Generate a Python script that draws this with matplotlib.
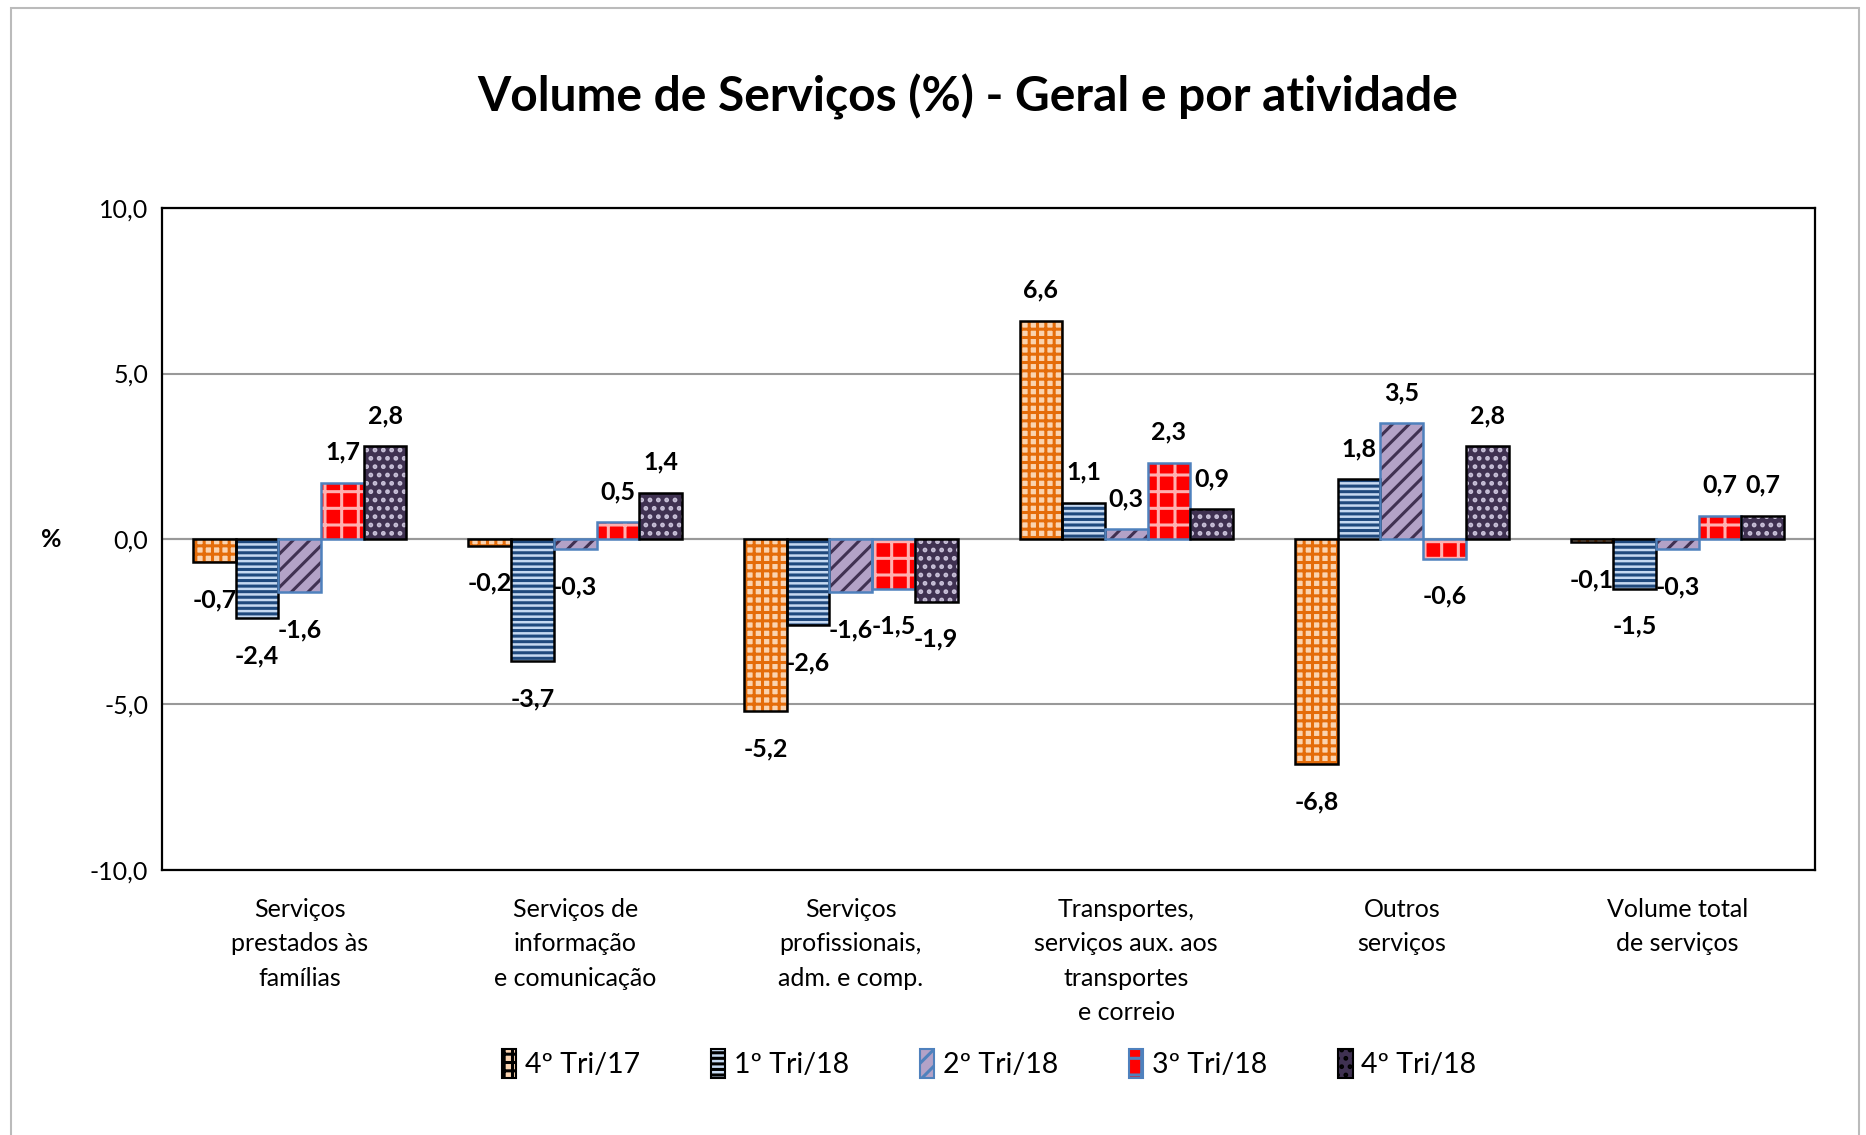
import matplotlib.pyplot as plt
import numpy as np
from matplotlib.patches import Rectangle

plt.rcParams['font.family'] = ['Lato', 'DejaVu Sans']
plt.rcParams['hatch.linewidth'] = 2.2

categorias = ["Serviços\nprestados às\nfamílias",
              "Serviços de\ninformação\ne comunicação",
              "Serviços\nprofissionais,\nadm. e comp.",
              "Transportes,\nserviços aux. aos\ntransportes\ne correio",
              "Outros\nserviços",
              "Volume total\nde serviços"]
series = ["4º Tri/17", "1º Tri/18", "2º Tri/18", "3º Tri/18", "4º Tri/18"]
tri4_17 = [-0.7, -0.2, -5.2, 6.6, -6.8, -0.1]
tri1_18 = [-2.4, -3.7, -2.6, 1.1, 1.8, -1.5]
tri2_18 = [-1.6, -0.3, -1.6, 0.3, 3.5, -0.3]
tri3_18 = [1.7, 0.5, -1.5, 2.3, -0.6, 0.7]
tri4_18 = [2.8, 1.4, -1.9, 0.9, 2.8, 0.7]
valores = [tri4_17, tri1_18, tri2_18, tri3_18, tri4_18]

# face, hatch colour, hatch, border
estilos = [("#FAD3B0", "#E46C0A", "++", "black"),
           ("#C6D9F1", "#1F497D", "---", "black"),
           ("#B3A2C7", "#403152", "//", "#4F81BD"),
           ("#FF0000", "#FFB0B0", "-|", "#4F81BD"),
           ("#3F3151", "#C8C0D8", "..", "black")]

fig = plt.figure(figsize=(18.66, 11.35), dpi=100)
ax = fig.add_axes([0.0868, 0.2335, 0.8859, 0.5832])

x = np.arange(len(categorias))
w = 0.155
for i, (vals, (fc, hc, hatch, ec)) in enumerate(zip(valores, estilos)):
    pos = x + (i - 2) * w
    ax.bar(pos, vals, w, color=fc, edgecolor=hc, hatch=hatch, linewidth=0, zorder=3)
    ax.bar(pos, vals, w, fill=False, edgecolor=ec, linewidth=1.8, zorder=4)
    for px, v in zip(pos, vals):
        off = 22 if v >= 0 else -27
        ax.annotate(f"{v:.1f}".replace(".", ","), (px, v), xytext=(0, off),
                    textcoords="offset points", ha="center", va="center",
                    fontsize=18, fontweight="bold", zorder=5)

ax.set_ylim(-10, 10)
ax.set_xlim(-0.5, len(categorias) - 0.5)
ax.set_yticks([-10, -5, 0, 5, 10])
ax.set_yticklabels(["-10,0", "-5,0", "0,0", "5,0", "10,0"], fontsize=18)
ax.set_xticks(x)
ax.set_xticklabels(categorias, fontsize=18, linespacing=1.6, va="top")
ax.tick_params(axis="both", length=0, pad=10)
ax.tick_params(axis="x", pad=20)
ax.yaxis.grid(True, color="#999999", linewidth=1.5, zorder=0)
ax.axhline(0, color="#999999", linewidth=1.5, zorder=2)
for s in ax.spines.values():
    s.set_linewidth(1.6)
    s.set_color("black")
ax.text(-0.067, 0.5, "%", transform=ax.transAxes, fontsize=18, fontweight="bold",
        ha="center", va="center")

fig.suptitle("Volume de Serviços (%) - Geral e por atividade", fontsize=34.5,
             fontweight="bold", x=0.5185, y=0.935)

handles = []
for fc, hc, hatch, ec in estilos:
    handles.append(Rectangle((0, 0), 1, 1, facecolor=fc, edgecolor=ec, hatch=hatch, linewidth=1.5))
fig.legend(handles, series, loc="center", bbox_to_anchor=(0.53, 0.063), ncol=5,
           frameon=False, fontsize=20.5, handlelength=0.5, handleheight=1.2,
           columnspacing=2.5, handletextpad=0.3)

fig.patches.append(Rectangle((0.006, -0.01), 0.99, 1.003, transform=fig.transFigure,
                             fill=False, edgecolor="#BBBBBB", linewidth=1.5))

fig.savefig("out.png", dpi=100)
